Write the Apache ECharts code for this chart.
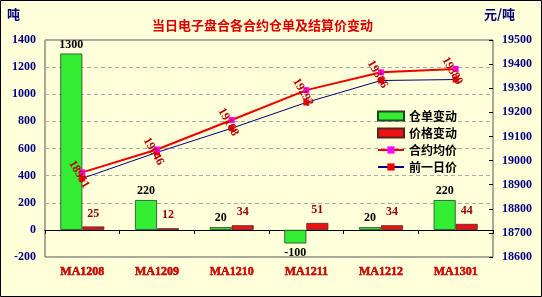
<!DOCTYPE html>
<html><head><meta charset="utf-8">
<script src="https://cdn.jsdelivr.net/npm/echarts@6/dist/echarts.min.js"></script>
<style>html,body{margin:0;padding:0;background:#ffffd9}#c{width:542px;height:297px}</style>
</head><body><div id="c"></div>
<script>
const categories = ['MA1208','MA1209','MA1210','MA1211','MA1212','MA1301'];
const warehouseChange = [1300, 220, 20, -100, 20, 220];
const priceChange = [25, 12, 34, 51, 34, 44];
const avgPrice = [18951, 19046, 19168, 19292, 19366, 19380];
const prevPrice = [18926, 19034, 19134, 19241, 19332, 19336];
const leftTicks = {min: -200, max: 1400, interval: 200};
const rightTicks = {min: 18600, max: 19500, interval: 100};

const serif = 'Liberation Serif';
const cjk = 'Noto Sans CJK SC';
const plain = v => String(v);
const chart = echarts.init(document.getElementById('c'));
chart.setOption({
  backgroundColor: '#ffffd9',
  animation: false,
  title: {text: '当日电子盘合各合约仓单及结算价变动', left: 147, top: 14,
    textStyle: {color: '#dd0000', fontSize: 13, fontWeight: 'bold', fontFamily: cjk}},
  graphic: [
    {type: 'rect', shape: {x: 0.5, y: 0.5, width: 541, height: 296}, style: {fill: 'none', stroke: '#000', lineWidth: 1}},
    {type: 'text', left: 7, top: 8, style: {text: '吨', fill: '#000080', font: 'bold 13px "Noto Sans CJK SC"'}},
    {type: 'text', left: 484, top: 8, style: {text: '元/吨', fill: '#000080', font: 'bold 13px "Noto Sans CJK SC"'}}
  ],
  legend: {orient: 'vertical', left: 372, top: 105, itemWidth: 26, itemHeight: 9, itemGap: 5,
    textStyle: {color: '#000', fontSize: 12, fontWeight: 'bold', fontFamily: cjk},
    data: [{name: '仓单变动', icon: 'rect'}, {name: '价格变动', icon: 'rect'}, '合约均价', '前一日价']},
  grid: {left: 45, right: 49, top: 40, bottom: 40, show: true, borderColor: '#555', borderWidth: 1, backgroundColor: 'transparent'},
  xAxis: [
    {type: 'category', data: categories, position: 'bottom', axisLine: {show: false, onZero: false},
     axisTick: {show: false}, axisLabel: {margin: 9, color: '#dd0000', fontSize: 12, fontWeight: 'bold', fontFamily: serif,
       textBorderColor: '#700', textBorderWidth: 0.5}},
    {type: 'category', data: categories, position: 'bottom', axisLine: {show: true, onZero: true, onZeroAxisIndex: 0, lineStyle: {color: '#000', width: 1}},
     axisTick: {show: true, length: 4, lineStyle: {color: '#000'}}, axisLabel: {show: false}}
  ],
  yAxis: [
    {type: 'value', min: leftTicks.min, max: leftTicks.max, interval: leftTicks.interval, axisLine: {show: false},
     axisTick: {show: false}, splitLine: {show: true, lineStyle: {color: '#aaa', type: [4, 3]}},
     axisLabel: {margin: 9, color: '#000080', fontSize: 12, fontWeight: 'bold', fontFamily: serif, formatter: plain}},
    {type: 'value', min: rightTicks.min, max: rightTicks.max, interval: rightTicks.interval, position: 'right',
     axisLine: {show: false}, axisTick: {show: true, length: 4, inside: true, lineStyle: {color: '#000'}}, splitLine: {show: false},
     axisLabel: {margin: 9, color: '#000080', fontSize: 12, fontWeight: 'bold', fontFamily: serif, formatter: plain}}
  ],
  series: [
    {name: '仓单变动', type: 'bar', yAxisIndex: 0, barWidth: 22, barGap: '0%',
     itemStyle: {color: '#33ee33', borderColor: '#224422', borderWidth: 0.8},
     label: {show: true, position: 'top', distance: 3, color: '#000', fontSize: 12, fontWeight: 'bold', fontFamily: serif},
     data: warehouseChange.map(v => v < 0 ? {value: v, label: {position: 'bottom'}} : v)},
    {name: '价格变动', type: 'bar', yAxisIndex: 0, barWidth: 22,
     itemStyle: {color: '#ee1111', borderColor: '#552222', borderWidth: 0.8},
     label: {show: true, position: 'top', distance: 7, color: '#990000', fontSize: 12, fontWeight: 'bold', fontFamily: serif},
     data: priceChange},
    {name: '前一日价', type: 'line', yAxisIndex: 1, data: prevPrice, symbol: 'rect', symbolSize: 6,
     lineStyle: {color: '#000080', width: 1}, itemStyle: {color: '#ee0000'}, z: 3},
    {name: '合约均价', type: 'line', yAxisIndex: 1, data: avgPrice, symbol: 'rect', symbolSize: 6,
     lineStyle: {color: '#ee0000', width: 2}, itemStyle: {color: '#ff00ff'}, z: 4,
     label: {show: true, position: 'inside', rotate: -60, color: '#bb0000', fontSize: 12, fontWeight: 'bold', fontFamily: serif, offset: [0, 4]}}
  ]
});
</script></body></html>
